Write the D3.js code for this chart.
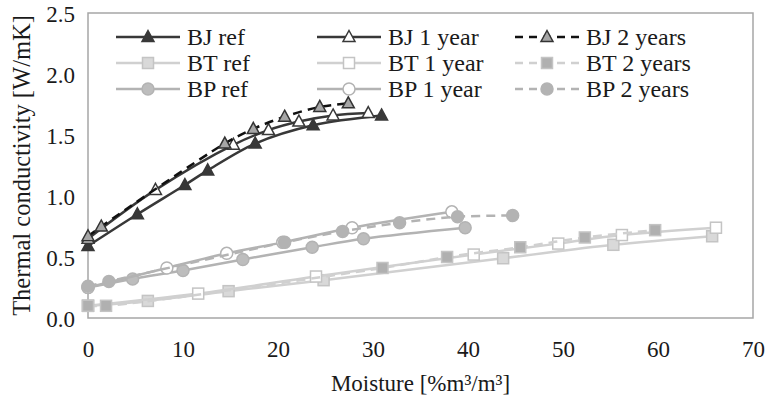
<!DOCTYPE html>
<html>
<head>
<meta charset="utf-8">
<script src="https://cdn.jsdelivr.net/npm/d3@7"></script>
<style>
  body { margin: 0; background: #fff; }
</style>
</head>
<body>
<script>
var w = 767
var h = 401
var serif = "'Liberation Serif', 'Times New Roman', Times, 'DejaVu Serif', serif"

// data: [moisture, conductivity]
var bjRef = [[0, 0.59], [5.2, 0.85], [10.2, 1.09], [12.6, 1.21], [17.6, 1.43], [23.7, 1.58], [30.9, 1.66]]
var bj1 = [[0, 0.65], [7.1, 1.05], [15.3, 1.42], [19, 1.54], [22.2, 1.61], [25.8, 1.66], [29.5, 1.68]]
var bj2 = [[0, 0.67], [1.4, 0.75], [14.4, 1.43], [17.4, 1.55], [20.7, 1.65], [24.4, 1.73], [27.4, 1.76]]
var btRef = [[0, 0.10], [6.3, 0.14], [14.8, 0.22], [24.8, 0.31], [43.7, 0.49], [55.3, 0.60], [65.7, 0.67]]
var bt1 = [[0, 0.10], [11.6, 0.20], [24, 0.34], [40.6, 0.52], [49.5, 0.61], [56.2, 0.68], [66.1, 0.74]]
var bt2 = [[0, 0.10], [1.9, 0.10], [31, 0.41], [37.8, 0.50], [45.5, 0.58], [52.3, 0.66], [59.7, 0.72]]
var bpRef = [[0, 0.25], [4.7, 0.32], [10, 0.39], [16.3, 0.48], [23.6, 0.58], [29, 0.65], [39.7, 0.74]]
var bp1 = [[0, 0.25], [8.3, 0.41], [14.6, 0.53], [20.5, 0.62], [27.8, 0.74], [38.3, 0.87]]
var bp2 = [[0, 0.26], [2.2, 0.30], [20.7, 0.62], [26.8, 0.71], [32.8, 0.78], [38.9, 0.83], [44.7, 0.84]]

var xTicks = [0, 10, 20, 30, 40, 50, 60, 70]
var yTicks = [0, 0.5, 1.0, 1.5, 2.0, 2.5]

var series = [
  {name: "BJ ref", data: bjRef, line: "#383838", dash: null, shape: "tri", fill: "#383838", edge: "#383838"},
  {name: "BJ 1 year", data: bj1, line: "#383838", dash: null, shape: "tri", fill: "#fff", edge: "#383838"},
  {name: "BJ 2 years", data: bj2, line: "#111", dash: "9,6", shape: "tri", fill: "#a6a6a6", edge: "#333"},
  {name: "BT ref", data: btRef, line: "#d0d0d0", dash: null, shape: "sq", fill: "#d9d9d9", edge: "#c4c4c4"},
  {name: "BT 1 year", data: bt1, line: "#d0d0d0", dash: null, shape: "sq", fill: "#fff", edge: "#c4c4c4"},
  {name: "BT 2 years", data: bt2, line: "#d0d0d0", dash: "9,6", shape: "sq", fill: "#b0b0b0", edge: "#c4c4c4"},
  {name: "BP ref", data: bpRef, line: "#b3b3b3", dash: null, shape: "circ", fill: "#bdbdbd", edge: "#b3b3b3"},
  {name: "BP 1 year", data: bp1, line: "#b3b3b3", dash: null, shape: "circ", fill: "#fff", edge: "#b3b3b3"},
  {name: "BP 2 years", data: bp2, line: "#b3b3b3", dash: "9,6", shape: "circ", fill: "#b3b3b3", edge: "#b3b3b3"}
]

var svg = d3.select("body")
            .append("svg")
            .attr("width", w)
            .attr("height", h)
            .style("font-family", serif)

var x = d3.scaleLinear().domain([0, 70]).range([88, 753])
var y = d3.scaleLinear().domain([0, 2.5]).range([318, 13])

// plot frame
svg.append("rect")
    .attr("x", x(0))
    .attr("y", y(2.5))
    .attr("width", x(70) - x(0))
    .attr("height", y(0) - y(2.5))
    .attr("fill", "none")
    .attr("stroke", "#a6a6a6")
    .attr("stroke-width", 1.5)

// axes (labels only, Excel style)
var xAxis = svg.append("g")
    .attr("transform", "translate(0," + y(0) + ")")
    .call(d3.axisBottom(x).tickValues(xTicks).tickSize(0).tickPadding(0).tickFormat(d3.format("d")))
xAxis.attr("font-family", serif).attr("font-size", 23)
xAxis.select(".domain").remove()
xAxis.selectAll("text")
    .attr("y", 39)
    .attr("dy", null)
    .attr("fill", "#1a1a1a")

var yAxis = svg.append("g")
    .attr("transform", "translate(" + x(0) + ",0)")
    .call(d3.axisLeft(y).tickValues(yTicks).tickSize(0).tickFormat(d3.format(".1f")))
yAxis.attr("font-family", serif).attr("font-size", 23)
yAxis.select(".domain").remove()
yAxis.selectAll("text")
    .attr("x", -13)
    .attr("dy", "0.35em")
    .attr("fill", "#1a1a1a")

svg.append("text")
    .text("Moisture [%m³/m³]")
    .attr("x", (x(0) + x(70)) / 2)
    .attr("y", 391)
    .attr("text-anchor", "middle")
    .attr("font-family", serif)
    .attr("font-size", 23)
    .attr("fill", "#1a1a1a")

svg.append("text")
    .text("Thermal conductivity [W/mK]")
    .attr("transform", "translate(30," + ((y(0) + y(2.5)) / 2) + ") rotate(-90)")
    .attr("text-anchor", "middle")
    .attr("font-family", serif)
    .attr("font-size", 24.5)
    .attr("fill", "#1a1a1a")

var line = d3.line()
    .x(function(d) { return x(d[0]) })
    .y(function(d) { return y(d[1]) })
    .curve(d3.curveCatmullRom.alpha(0.5))

function marker(g, s) {
  if (s.shape == "tri") {
    g.append("path").attr("d", "M0,-6.5L6,4.5L-6,4.5Z")
  } else if (s.shape == "sq") {
    g.append("rect").attr("x", -5.5).attr("y", -5.5).attr("width", 11).attr("height", 11)
  } else {
    g.append("circle").attr("r", 6)
  }
  g.selectAll("*")
    .attr("fill", s.fill)
    .attr("stroke", s.edge)
    .attr("stroke-width", 1.5)
}

// draw light series first, dark ones on top
var order = [3, 4, 5, 6, 7, 8, 0, 1, 2]
order.forEach(function(i) {
  var s = series[i]
  var g = svg.append("g")
  g.append("path")
    .attr("d", line(s.data))
    .attr("fill", "none")
    .attr("stroke", s.line)
    .attr("stroke-width", 2.5)
    .attr("stroke-dasharray", s.dash)
  g.selectAll("g")
    .data(s.data)
    .enter().append("g")
    .attr("transform", function(d) { return "translate(" + x(d[0]) + "," + y(d[1]) + ")" })
    .each(function() { marker(d3.select(this), s) })
})

// legend, three columns
var colX = [116, 317, 515]
var rowY = [37, 63, 89]
series.forEach(function(s, i) {
  var cx = colX[i % 3]
  var cy = rowY[Math.floor(i / 3)]
  var g = svg.append("g").attr("transform", "translate(" + cx + "," + cy + ")")
  g.append("line")
    .attr("x1", 0).attr("x2", 64)
    .attr("stroke", s.line)
    .attr("stroke-width", 2.5)
    .attr("stroke-dasharray", s.dash ? "8,6" : null)
  var m = g.append("g").attr("transform", "translate(32,0)")
  marker(m, s)
  g.append("text")
    .text(s.name)
    .attr("x", 71)
    .attr("y", 8)
    .attr("font-family", serif)
    .attr("font-size", 24)
    .attr("fill", "#1a1a1a")
})
</script>
</body>
</html>
